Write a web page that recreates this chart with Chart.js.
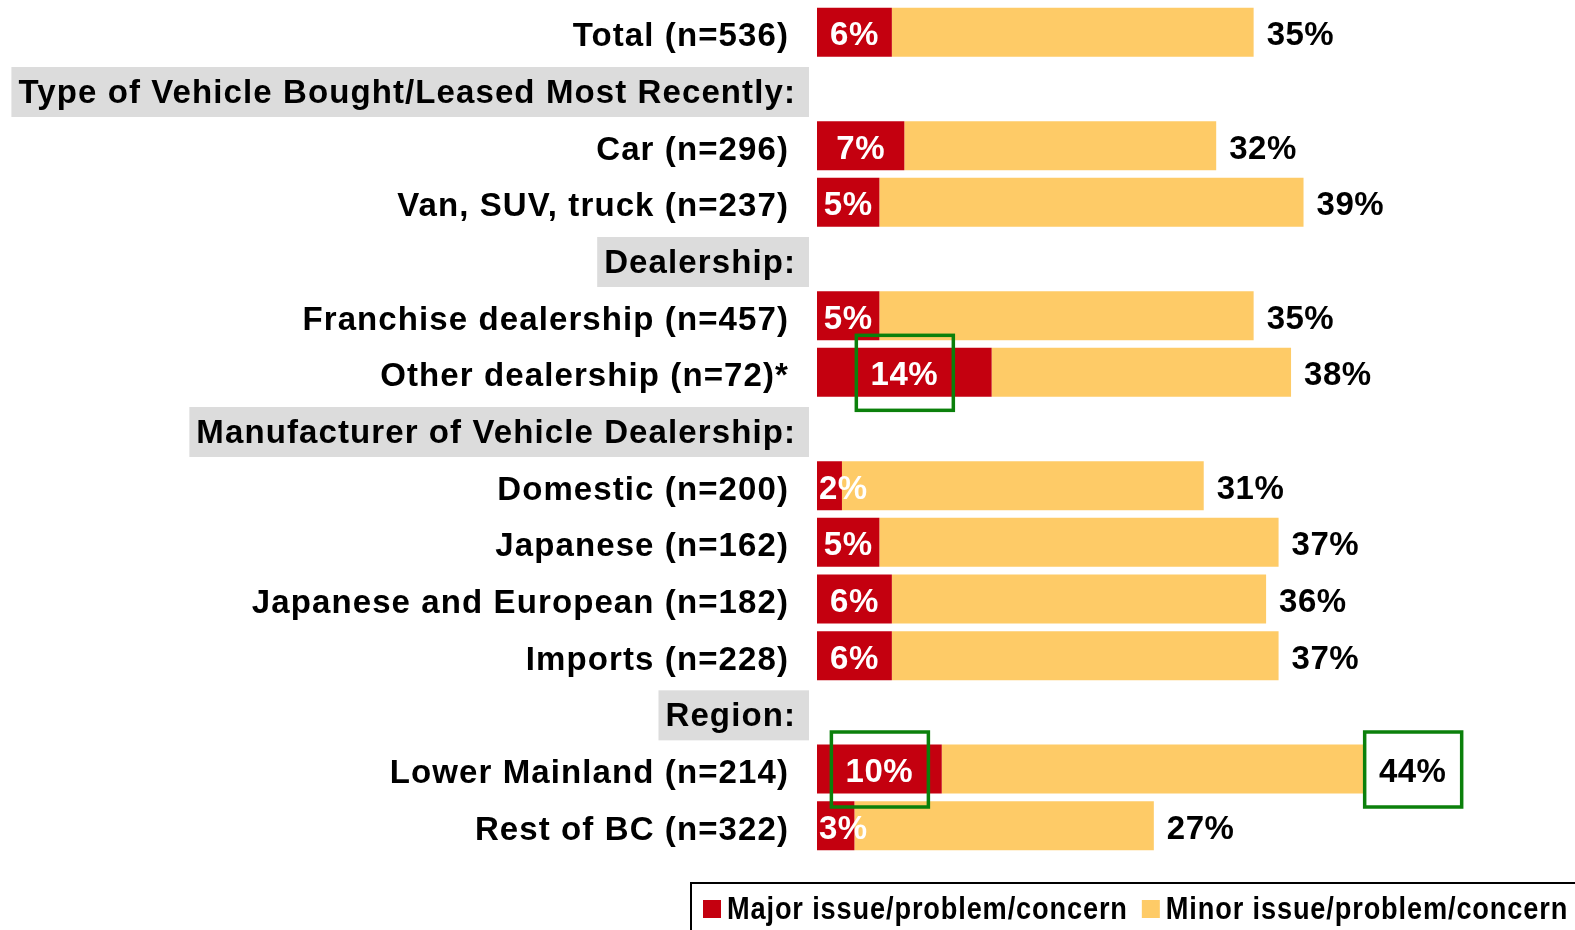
<!DOCTYPE html>
<html>
<head>
<meta charset="utf-8">
<script src="https://cdn.jsdelivr.net/npm/chart.js@4"></script>
<style>
    html, body { margin: 0; padding: 0; background: #fff; }
    #wrap { width: 1575px; height: 930px; position: relative; }
</style>
</head>
<body>
<div id="wrap"><canvas id="bar-chart_issue"></canvas></div>
<script>
// 항목 (null 값이면 회색 헤더)
var categories = [
    "Total (n=536)",
    "Type of Vehicle Bought/Leased Most Recently:",
    "Car (n=296)",
    "Van, SUV, truck (n=237)",
    "Dealership:",
    "Franchise dealership (n=457)",
    "Other dealership (n=72)*",
    "Manufacturer of Vehicle Dealership:",
    "Domestic (n=200)",
    "Japanese (n=162)",
    "Japanese and European (n=182)",
    "Imports (n=228)",
    "Region:",
    "Lower Mainland (n=214)",
    "Rest of BC (n=322)"
];

var majorPct = [6, null, 7, 5, null, 5, 14, null, 2, 5, 6, 6, null, 10, 3];
var minorPct = [29, null, 25, 34, null, 30, 24, null, 29, 32, 30, 31, null, 34, 24];
var totalPct = [35, null, 32, 39, null, 35, 38, null, 31, 37, 36, 37, null, 44, 27];

var seriesNames = ["Major issue/problem/concern", "Minor issue/problem/concern"];
var seriesColors = ["#c4000f", "#fecb67"];

// 초록 박스 강조 [행, 'major' 또는 'total']
var highlights = [[6, "major"], [13, "major"], [13, "total"]];

var labelFont = 'bold 33px "Liberation Sans", Arial, sans-serif';


// 왼쪽 항목 이름 + 회색 헤더
var rowLabelPlugin = {
    id: "rowLabels",
    afterDraw: function (chart) {
        var ctx = chart.ctx;
        var yScale = chart.scales.y;
        var left = chart.chartArea.left;
        ctx.save();
        ctx.font = labelFont;
        ctx.letterSpacing = "1.1px";
        ctx.textBaseline = "middle";
        ctx.textAlign = "right";
        categories.forEach(function (label, i) {
            var cy = yScale.getPixelForValue(i);
            if (majorPct[i] === null) {
                var w = ctx.measureText(label).width;
                ctx.fillStyle = "#dcdcdc";
                ctx.fillRect(left - 21 - w - 7, cy - 22, w + 20, 50);
                ctx.fillStyle = "#000";
                ctx.fillText(label, left - 21, cy + 5);
            } else {
                ctx.fillStyle = "#000";
                ctx.fillText(label, left - 28, cy + 5);
            }
        });
        ctx.restore();
    }
};

// 막대 위 숫자 + 초록 박스
var valueLabelPlugin = {
    id: "valueLabels",
    afterDatasetsDraw: function (chart) {
        var ctx = chart.ctx;
        var majorBars = chart.getDatasetMeta(0).data;
        var minorBars = chart.getDatasetMeta(1).data;
        var spots = {};
        ctx.save();
        ctx.font = labelFont;
        ctx.letterSpacing = "0.5px";
        ctx.textBaseline = "middle";
        ctx.textAlign = "center";
        majorPct.forEach(function (v, i) {
            if (v === null) return;
            var bar = majorBars[i];
            var txt = v + "%";
            var w = ctx.measureText(txt).width;
            var cx = (bar.base + bar.x) / 2;
            if (cx - w / 2 < bar.base + 2) cx = bar.base + 2 + w / 2;
            ctx.fillStyle = "#fff";
            ctx.fillText(txt, cx, bar.y + 4);
            spots[i + "major"] = { x: cx, y: bar.y };

            var end = minorBars[i];
            var ttxt = totalPct[i] + "%";
            var tw = ctx.measureText(ttxt).width;
            ctx.fillStyle = "#000";
            ctx.fillText(ttxt, end.x + 13 + tw / 2, end.y + 4);
            spots[i + "total"] = { x: end.x + 13 + tw / 2, y: end.y };
        });

        ctx.strokeStyle = "#0b800b";
        ctx.lineWidth = 3.5;
        highlights.forEach(function (h) {
            var s = spots[h[0] + h[1]];
            ctx.strokeRect(s.x - 48, s.y - 37, 97, 75);
        });
        ctx.restore();
    }
};

// 범례 (아래 오른쪽 상자) - 글자는 가로로 좁게
var legendPlugin = {
    id: "boxLegend",
    afterDraw: function (chart) {
        var ctx = chart.ctx;
        var squeeze = 0.85;
        ctx.save();
        ctx.strokeStyle = "#000";
        ctx.lineWidth = 2;
        ctx.strokeRect(691, 883, 900, 80);
        ctx.font = 'bold 32px "Liberation Sans", Arial, sans-serif';
        ctx.letterSpacing = "1px";
        ctx.textBaseline = "middle";
        ctx.textAlign = "left";
        var x = 703;
        seriesNames.forEach(function (name, k) {
            ctx.fillStyle = seriesColors[k];
            ctx.fillRect(x, 900, 18, 18);
            ctx.fillStyle = "#000";
            ctx.save();
            ctx.translate(x + 24, 910);
            ctx.scale(squeeze, 1);
            ctx.fillText(name, 0, 0);
            ctx.restore();
            x += 24 + ctx.measureText(name).width * squeeze + 14;
        });
        ctx.restore();
    }
};

var Chart_bar_issue = new Chart(document.getElementById("bar-chart_issue"), {
    type: "bar",
    data: {
        labels: categories,
        datasets: [
            {
                label: seriesNames[0],
                data: majorPct,
                backgroundColor: seriesColors[0],
                categoryPercentage: 1,
                barPercentage: 0.865
            },
            {
                label: seriesNames[1],
                data: minorPct,
                backgroundColor: seriesColors[1],
                categoryPercentage: 1,
                barPercentage: 0.865
            }
        ]
    },
    options: {
        indexAxis: "y",
        responsive: true,
        maintainAspectRatio: false,
        animation: false,
        layout: {
            padding: { left: 817, right: 9.5, top: 4, bottom: 76 }
        },
        scales: {
            x: { stacked: true, min: 0, max: 60, display: false },
            y: { stacked: true, display: false }
        },
        plugins: {
            legend: { display: false },
            tooltip: { enabled: false }
        }
    },
    plugins: [rowLabelPlugin, valueLabelPlugin, legendPlugin]
});
</script>
</body>
</html>
